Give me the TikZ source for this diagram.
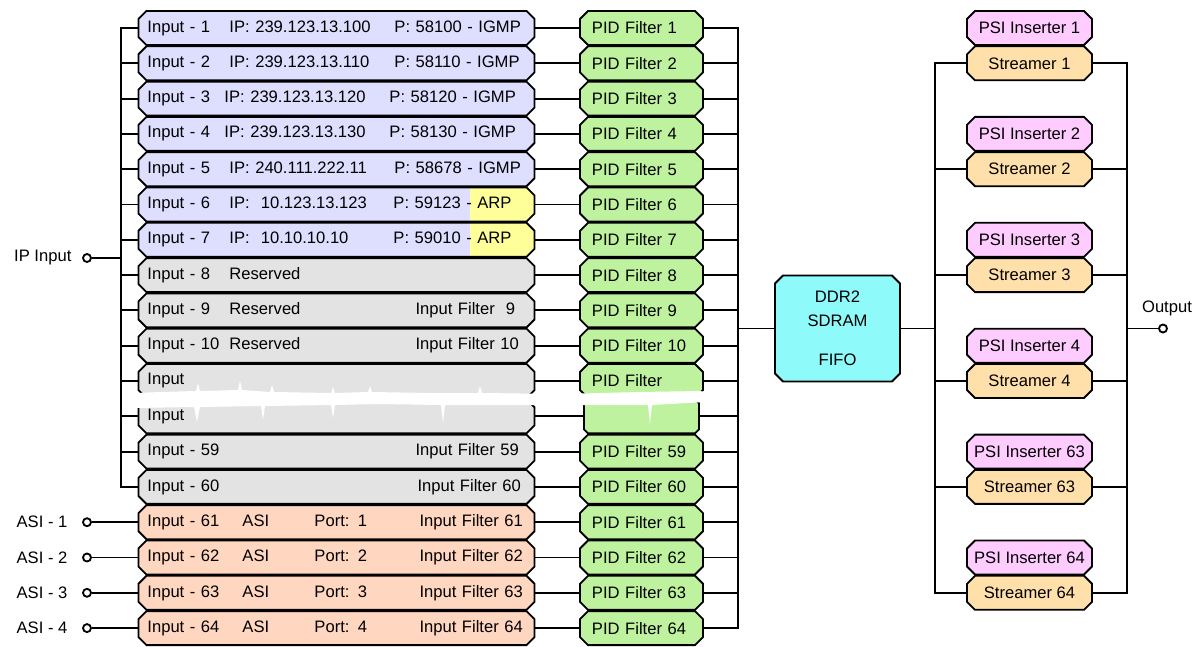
\documentclass[tikz,border=0pt]{standalone}
\usepackage{fontspec}
\setmainfont{Liberation Sans}
\usetikzlibrary{shapes.misc}

\definecolor{igmpblue}{RGB}{222,222,255}
\definecolor{arpyellow}{RGB}{255,255,153}
\definecolor{resgray}{RGB}{227,227,227}
\definecolor{asipeach}{RGB}{255,214,192}
\definecolor{pidgreen}{RGB}{190,242,158}
\definecolor{ddrcyan}{RGB}{142,250,250}
\definecolor{psipink}{RGB}{255,204,255}
\definecolor{strorange}{RGB}{255,224,170}

\tikzset{
  blk/.style={chamfered rectangle, chamfered rectangle xsep=0.1cm,
    chamfered rectangle ysep=0.1cm, draw, line width=1.3pt,
    minimum height=0.85cm, inner ysep=0pt},
  inbox/.style={blk, text width=9.45cm, align=left, inner xsep=0.125cm},
  pidbox/.style={blk, fill=pidgreen, text width=2.475cm, align=left, inner xsep=0.2cm},
  strbox/.style={blk, minimum width=3.125cm, inner xsep=0pt},
  arp/.style={path picture={\fill[arpyellow] ([xshift=-1.625cm]path picture bounding box.north east)
    rectangle (path picture bounding box.south east);}},
  port/.style={circle, draw, fill=white, line width=1.3pt, inner sep=0pt, minimum size=0.2cm},
}

\begin{document}
\begin{tikzpicture}[x=0.025cm,y=-0.025cm,line width=1.3pt,
    every node/.style={font=\fontsize{11.8}{14}\selectfont}]
\useasboundingbox (0,0) rectangle (1199,646);

% input channels
\node[inbox, fill=igmpblue] (in1) at (336.5,28) {\makebox[2.05cm][l]{Input - 1}\makebox[4.125cm][l]{IP: 239.123.13.100}P: 58100 - IGMP};
\node[inbox, fill=igmpblue] (in2) at (336.5,63.3) {\makebox[2.05cm][l]{Input - 2}\makebox[4.125cm][l]{IP: 239.123.13.110}P: 58110 - IGMP};
\node[inbox, fill=igmpblue] (in3) at (336.5,98.6) {\makebox[1.925cm][l]{Input - 3}\makebox[4.125cm][l]{IP: 239.123.13.120}P: 58120 - IGMP};
\node[inbox, fill=igmpblue] (in4) at (336.5,133.9) {\makebox[1.925cm][l]{Input - 4}\makebox[4.125cm][l]{IP: 239.123.13.130}P: 58130 - IGMP};
\node[inbox, fill=igmpblue] (in5) at (336.5,169.2) {\makebox[2.05cm][l]{Input - 5}\makebox[4.125cm][l]{IP: 240.111.222.11}P: 58678 - IGMP};
\node[inbox, fill=igmpblue, arp] (in6) at (336.5,204.5) {\makebox[2.05cm][l]{Input - 6}\makebox[4.1cm][l]{IP:\ \ 10.123.13.123}P: 59123 - ARP};
\node[inbox, fill=igmpblue, arp] (in7) at (336.5,239.8) {\makebox[2.05cm][l]{Input - 7}\makebox[4.1cm][l]{IP:\ \ 10.10.10.10}P: 59010 - ARP};
\node[inbox, fill=resgray] (in8) at (336.5,275.1) {\makebox[2.05cm][l]{Input - 8}Reserved};
\node[inbox, fill=resgray] (in9) at (336.5,310.4) {\makebox[2.05cm][l]{Input - 9}\makebox[4.65cm][l]{Reserved}Input Filter\ \ 9};
\node[inbox, fill=resgray] (in10) at (336.5,345.7) {\makebox[2.05cm][l]{Input - 10}\makebox[4.65cm][l]{Reserved}Input Filter 10};
\node[inbox, fill=resgray] (inx) at (336.5,381) {Input};
\node[inbox, fill=resgray] (iny) at (336.5,416.3) {Input};
\node[inbox, fill=resgray] (in59) at (336.5,451.6) {\makebox[6.7cm][l]{Input - 59}Input Filter 59};
\node[inbox, fill=resgray] (in60) at (336.5,486.9) {\makebox[6.75cm][l]{Input - 60}Input Filter 60};
\node[inbox, fill=asipeach] (in61) at (336.5,522.2) {\makebox[2.375cm][l]{Input - 61}\makebox[1.8cm][l]{ASI}\makebox[2.625cm][l]{Port: 1}Input Filter 61};
\node[inbox, fill=asipeach] (in62) at (336.5,557.5) {\makebox[2.375cm][l]{Input - 62}\makebox[1.8cm][l]{ASI}\makebox[2.625cm][l]{Port: 2}Input Filter 62};
\node[inbox, fill=asipeach] (in63) at (336.5,592.8) {\makebox[2.375cm][l]{Input - 63}\makebox[1.8cm][l]{ASI}\makebox[2.625cm][l]{Port: 3}Input Filter 63};
\node[inbox, fill=asipeach] (in64) at (336.5,628.1) {\makebox[2.375cm][l]{Input - 64}\makebox[1.8cm][l]{ASI}\makebox[2.625cm][l]{Port: 4}Input Filter 64};

% pid filters
\node[pidbox] (pid1) at (641.5,28) {PID Filter 1};
\node[pidbox] (pid2) at (641.5,63.3) {PID Filter 2};
\node[pidbox] (pid3) at (641.5,98.6) {PID Filter 3};
\node[pidbox] (pid4) at (641.5,133.9) {PID Filter 4};
\node[pidbox] (pid5) at (641.5,169.2) {PID Filter 5};
\node[pidbox] (pid6) at (641.5,204.5) {PID Filter 6};
\node[pidbox] (pid7) at (641.5,239.8) {PID Filter 7};
\node[pidbox] (pid8) at (641.5,275.1) {PID Filter 8};
\node[pidbox] (pid9) at (641.5,310.4) {PID Filter 9};
\node[pidbox] (pid10) at (641.5,345.7) {PID Filter 10};
\node[pidbox] (pidx) at (641.5,381) {PID Filter};
\node[pidbox] (pidy) at (641.5,416.3) {};
\node[pidbox] (pid59) at (641.5,451.6) {PID Filter 59};
\node[pidbox] (pid60) at (641.5,486.9) {PID Filter 60};
\node[pidbox] (pid61) at (641.5,522.2) {PID Filter 61};
\node[pidbox] (pid62) at (641.5,557.5) {PID Filter 62};
\node[pidbox] (pid63) at (641.5,592.8) {PID Filter 63};
\node[pidbox] (pid64) at (641.5,628.1) {PID Filter 64};

% memory
\node[blk, fill=ddrcyan, minimum width=3.125cm, minimum height=2.65cm, align=center,
  font=\fontsize{11.8}{17}\selectfont] (ddr) at (837.5,328.5) {DDR2\\SDRAM\\[11pt]FIFO};

% output side
\node[strbox, fill=psipink] (psi1) at (1029.5,28) {PSI Inserter 1};
\node[strbox, fill=strorange] (str1) at (1029.5,63.3) {Streamer 1};
\node[strbox, fill=psipink] (psi2) at (1029.5,133.9) {PSI Inserter 2};
\node[strbox, fill=strorange] (str2) at (1029.5,169.2) {Streamer 2};
\node[strbox, fill=psipink] (psi3) at (1029.5,239.8) {PSI Inserter 3};
\node[strbox, fill=strorange] (str3) at (1029.5,275.1) {Streamer 3};
\node[strbox, fill=psipink] (psi4) at (1029.5,345.7) {PSI Inserter 4};
\node[strbox, fill=strorange] (str4) at (1029.5,381) {Streamer 4};
\node[strbox, fill=psipink] (psi63) at (1029.5,451.6) {PSI Inserter 63};
\node[strbox, fill=strorange] (str63) at (1029.5,486.9) {Streamer 63};
\node[strbox, fill=psipink] (psi64) at (1029.5,557.5) {PSI Inserter 64};
\node[strbox, fill=strorange] (str64) at (1029.5,592.8) {Streamer 64};

% ports
\node[port] (ipin) at (87,258) {};
\node[left] (iptxt) at (77,258) {IP Input};
\node[port] (asi1) at (87,522.2) {};
\node[port] (asi2) at (87,557.5) {};
\node[port] (asi3) at (87,592.8) {};
\node[port] (asi4) at (87,628.1) {};
\node[left] (asitxt1) at (73,522.2) {ASI - 1};
\node[left] (asitxt2) at (73,557.5) {ASI - 2};
\node[left] (asitxt3) at (73,592.8) {ASI - 3};
\node[left] (asitxt4) at (73,628.1) {ASI - 4};
\node[port] (out) at (1163,328.5) {};
\node (outtxt) at (1167,308) {Output};

% buses
\coordinate (lb) at (121,0);
\coordinate (rb) at (738,0);
\coordinate (sb) at (935,0);
\coordinate (ob) at (1127,0);

\draw (in1.west) -- (in1.west -| lb) -- (in60.west -| lb) -- (in60.west);
\foreach \i in {2,3,4,5,6,7,8,9,10,x,y,59}
  \draw (in\i.west) -- (in\i.west -| lb);
\draw (ipin) -- (ipin -| lb);
\foreach \a/\i in {1/61,2/62,3/63,4/64}
  \draw (asi\a) -- (in\i.west);

\foreach \i in {1,2,3,4,5,6,7,8,9,10,x,y,59,60,61,62,63,64}
  \draw (in\i.east) -- (pid\i.west);

\draw (pid1.east) -- (pid1.east -| rb) -- (pid64.east -| rb) -- (pid64.east);
\foreach \i in {2,3,4,5,6,7,8,9,10,x,y,59,60,61,62,63}
  \draw (pid\i.east) -- (pid\i.east -| rb);
\draw (ddr.west) -- (ddr.west -| rb);

\draw (str1.west) -- (str1.west -| sb) -- (str64.west -| sb) -- (str64.west);
\draw (str1.east) -- (str1.east -| ob) -- (str64.east -| ob) -- (str64.east);
\foreach \i in {2,3,4,63} {
  \draw (str\i.west) -- (str\i.west -| sb);
  \draw (str\i.east) -- (str\i.east -| ob);
}
\draw (ddr.east) -- (ddr.east -| sb);
\draw (out) -- (out -| ob);

% torn strip
\fill[white] (135,393) -- (160,392) -- (196,391) -- (198,383) -- (200,391) -- (238,390)
  -- (240,381) -- (242,390) -- (270,392) -- (272,385) -- (274,392) -- (331,393) -- (333,387)
  -- (335,393) -- (368,392) -- (370,386) -- (372,392) -- (430,393) -- (478,393) -- (480,386)
  -- (482,393) -- (560,394) -- (640,392) -- (700,391) -- (706,392) -- (706,402) -- (652,405)
  -- (650,424) -- (648,405) -- (600,405) -- (540,405) -- (445,405) -- (443,423) -- (441,405)
  -- (380,404) -- (335,405) -- (333,418) -- (331,405) -- (265,406) -- (263,420) -- (261,406)
  -- (200,407) -- (197,422) -- (194,407) -- (135,408) -- cycle;
\end{tikzpicture}
\end{document}
